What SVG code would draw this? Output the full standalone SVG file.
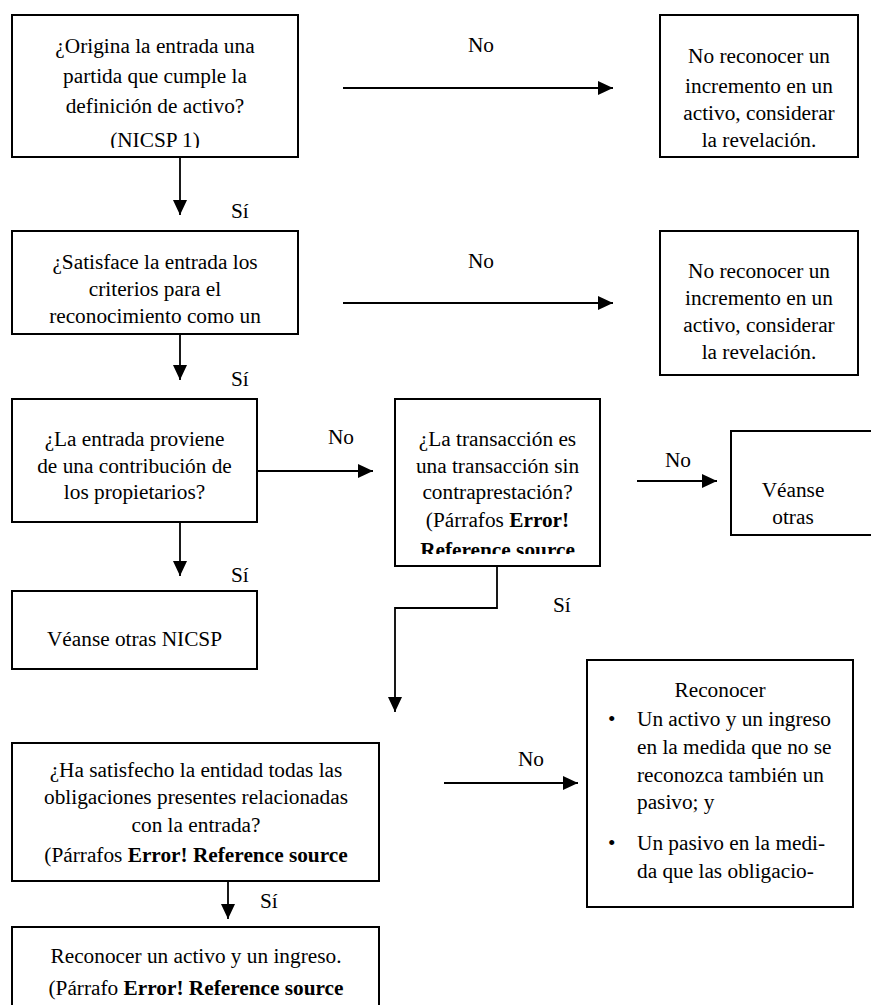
<svg xmlns="http://www.w3.org/2000/svg" width="871" height="1005" viewBox="0 0 871 1005" font-family="Liberation Serif, Times New Roman, DejaVu Serif, serif">
<style>
.box{fill:#fff;stroke:#000;stroke-width:2}
.t{font-size:21.3px;fill:#000}
.c{text-anchor:middle}
.b{font-weight:bold}
.conn{fill:none;stroke:#000;stroke-width:1.8}
</style>
<defs>
<marker id="ah" markerUnits="userSpaceOnUse" markerWidth="15" markerHeight="14" refX="15" refY="7" orient="auto"><path d="M0,0 L15,7 L0,14 z" fill="#000"/></marker>
<clipPath id="c1"><rect x="13" y="16" width="284" height="132"/></clipPath>
<clipPath id="cT"><rect x="396" y="400" width="203" height="154"/></clipPath>
<clipPath id="cV"><rect x="732" y="432" width="140" height="102"/></clipPath>
</defs>

<g id="connectors">
<line class="conn" x1="343" y1="88" x2="613" y2="88" marker-end="url(#ah)"/>
<line class="conn" x1="180" y1="157" x2="180" y2="215" marker-end="url(#ah)"/>
<line class="conn" x1="343" y1="303" x2="613" y2="303" marker-end="url(#ah)"/>
<line class="conn" x1="180" y1="334" x2="180" y2="380" marker-end="url(#ah)"/>
<line class="conn" x1="257" y1="471" x2="373" y2="471" marker-end="url(#ah)"/>
<line class="conn" x1="180" y1="522" x2="180" y2="576" marker-end="url(#ah)"/>
<line class="conn" x1="637" y1="481" x2="717" y2="481" marker-end="url(#ah)"/>
<polyline class="conn" points="497,566 497,608 395,608 395,712" marker-end="url(#ah)"/>
<line class="conn" x1="444" y1="783" x2="578" y2="783" marker-end="url(#ah)"/>
<line class="conn" x1="228" y1="881" x2="228" y2="919" marker-end="url(#ah)"/>
<text class="t c" x="481" y="52">No</text>
<text class="t" x="231" y="218">Sí</text>
<text class="t c" x="481" y="268">No</text>
<text class="t" x="231" y="386">Sí</text>
<text class="t c" x="341" y="444">No</text>
<text class="t" x="231" y="582">Sí</text>
<text class="t c" x="678" y="467">No</text>
<text class="t" x="553" y="612">Sí</text>
<text class="t c" x="531" y="766">No</text>
<text class="t" x="260" y="908">Sí</text>
</g>

<g id="n1">
<rect class="box" x="12" y="15" width="286" height="142"/>
<g clip-path="url(#c1)">
<text class="t c" x="155" y="53">¿Origina la entrada una</text>
<text class="t c" x="155" y="83">partida que cumple la</text>
<text class="t c" x="155" y="113">definición de activo?</text>
<text class="t c" x="155" y="147">(NICSP 1)</text>
</g>
</g>

<g id="r1">
<rect class="box" x="660" y="15" width="198" height="142"/>
<text class="t c" x="759" y="63">No reconocer un</text>
<text class="t c" x="759" y="93">incremento en un</text>
<text class="t c" x="759" y="120">activo, considerar</text>
<text class="t c" x="759" y="147">la revelación.</text>
</g>

<g id="n2">
<rect class="box" x="12" y="231" width="286" height="103"/>
<text class="t c" x="155" y="269">¿Satisface la entrada los</text>
<text class="t c" x="155" y="296">criterios para el</text>
<text class="t c" x="155" y="323">reconocimiento como un</text>
</g>

<g id="r2">
<rect class="box" x="660" y="231" width="198" height="144"/>
<text class="t c" x="759" y="278">No reconocer un</text>
<text class="t c" x="759" y="305">incremento en un</text>
<text class="t c" x="759" y="332">activo, considerar</text>
<text class="t c" x="759" y="359">la revelación.</text>
</g>

<g id="n3">
<rect class="box" x="12" y="399" width="245" height="123"/>
<text class="t c" x="134.5" y="446">¿La entrada proviene</text>
<text class="t c" x="134.5" y="473">de una contribución de</text>
<text class="t c" x="134.5" y="499">los propietarios?</text>
</g>

<g id="nT">
<rect class="box" x="395" y="399" width="205" height="167"/>
<g clip-path="url(#cT)">
<text class="t c" x="497.5" y="446">¿La transacción es</text>
<text class="t c" x="497.5" y="473">una transacción sin</text>
<text class="t c" x="497.5" y="499">contraprestación?</text>
<text class="t c" x="497.5" y="527">(Párrafos <tspan class="b">Error!</tspan></text>
<text class="t c b" x="497.5" y="557">Reference source</text>
</g>
</g>

<g id="nV">
<rect class="box" x="731" y="431" width="150" height="104"/>
<g clip-path="url(#cV)">
<text class="t c" x="793" y="497">Véanse</text>
<text class="t c" x="793" y="524">otras</text>
</g>
</g>

<g id="n4">
<rect class="box" x="12" y="591" width="245" height="78"/>
<text class="t c" x="134.5" y="646">Véanse otras NICSP</text>
</g>

<g id="n5">
<rect class="box" x="12" y="743" width="367" height="138"/>
<text class="t c" x="196" y="777">¿Ha satisfecho la entidad todas las</text>
<text class="t c" x="196" y="804">obligaciones presentes relacionadas</text>
<text class="t c" x="196" y="832">con la entrada?</text>
<text class="t c" x="196" y="862">(Párrafos <tspan class="b">Error! Reference source</tspan></text>
</g>

<g id="nR">
<rect class="box" x="587" y="660" width="266" height="247"/>
<text class="t c" x="720" y="697">Reconocer</text>
<text class="t" x="608" y="726">•</text>
<text class="t" x="637" y="726">Un activo y un ingreso</text>
<text class="t" x="637" y="754">en la medida que no se</text>
<text class="t" x="637" y="782">reconozca también un</text>
<text class="t" x="637" y="809">pasivo; y</text>
<text class="t" x="608" y="850">•</text>
<text class="t" x="637" y="850">Un pasivo en la medi-</text>
<text class="t" x="637" y="878">da que las obligacio-</text>
</g>

<g id="n6">
<rect class="box" x="12" y="927" width="367" height="100"/>
<text class="t c" x="196" y="963">Reconocer un activo y un ingreso.</text>
<text class="t c" x="196" y="995">(Párrafo <tspan class="b">Error! Reference source</tspan></text>
</g>
</svg>
